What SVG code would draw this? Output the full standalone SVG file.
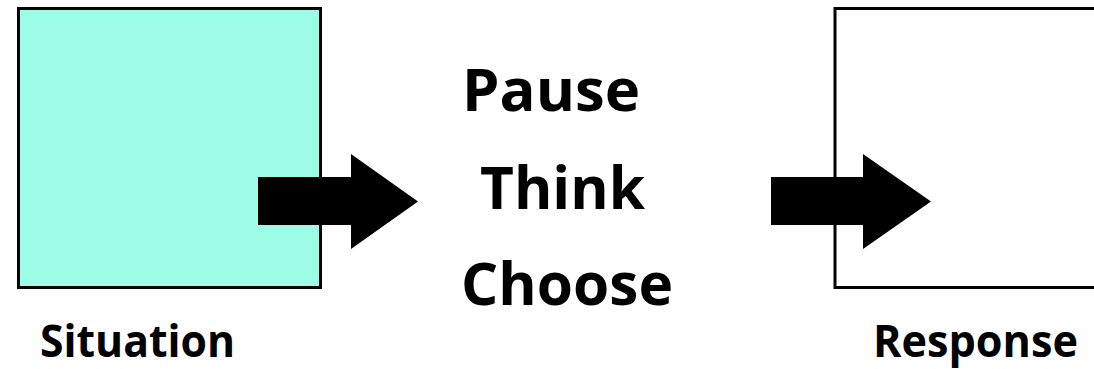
<svg xmlns="http://www.w3.org/2000/svg" width="1094" height="369" viewBox="0 0 1094 369">
<style>
.box{stroke:#000;stroke-width:3}
.arrow{fill:#000}
.big{font-family:"Open Sans","Liberation Sans",sans-serif;font-weight:bold;font-size:59px;fill:#000}
.lbl{font-family:"Open Sans","Liberation Sans",sans-serif;font-weight:bold;font-size:44px;fill:#000}
</style>
<rect width="1094" height="369" fill="#fff"/>
<g id="situation">
<rect class="box" x="18.5" y="8.5" width="302" height="279" fill="#9cfce6"/>
<text class="lbl" x="40" y="357" textLength="195" lengthAdjust="spacingAndGlyphs">Situation</text>
</g>
<g id="response">
<rect class="box" x="835" y="8.5" width="300" height="279" fill="#fff"/>
<text class="lbl" x="873" y="357" textLength="205" lengthAdjust="spacingAndGlyphs">Response</text>
</g>
<g id="process">
<text class="big" x="462" y="111" textLength="178" lengthAdjust="spacingAndGlyphs">Pause</text>
<text class="big" x="480" y="209" textLength="165" lengthAdjust="spacingAndGlyphs">Think</text>
<text class="big" x="461" y="305" textLength="212" lengthAdjust="spacingAndGlyphs">Choose</text>
</g>
<g id="connectors">
<polygon class="arrow" points="258,177 351,177 351,154 418,201.5 351,249 351,225 258,225"/>
<polygon class="arrow" points="771,177 863,177 863,154 931,201.5 863,249 863,225 771,225"/>
</g>
</svg>
